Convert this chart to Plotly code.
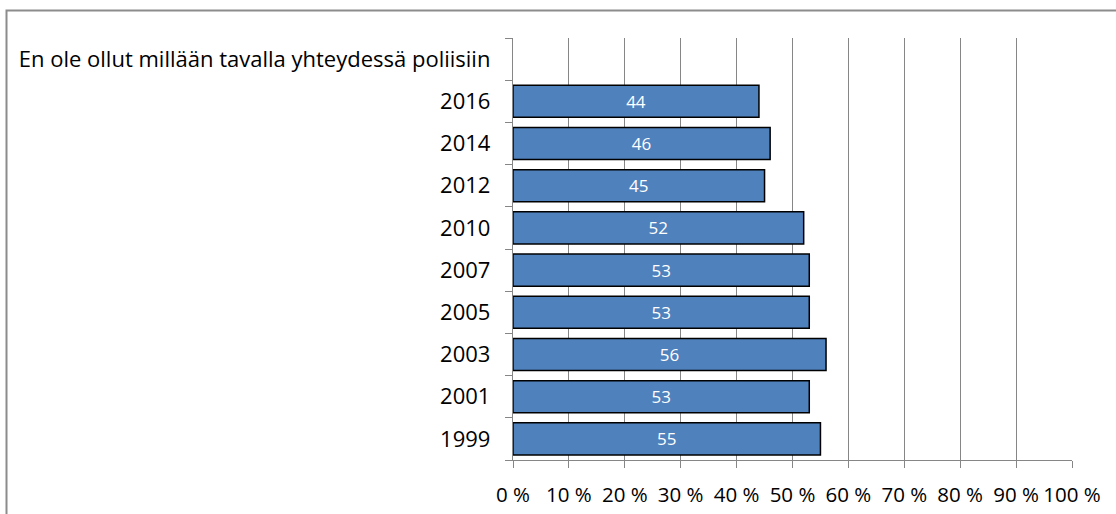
import plotly.graph_objects as go

header = "En ole ollut millään tavalla yhteydessä poliisiin"
years = ["1999", "2001", "2003", "2005", "2007", "2010", "2012", "2014", "2016"]
values = [55, 53, 56, 53, 53, 52, 45, 46, 44]
x_tickvals = [0, 10, 20, 30, 40, 50, 60, 70, 80, 90, 100]
x_ticktext = ["0 %", "10 %", "20 %", "30 %", "40 %", "50 %", "60 %", "70 %", "80 %", "90 %", "100 %"]

categories = years + [header]
bar_values = values + [None]
labels = [str(v) for v in values] + [""]

FONT = "Open Sans"
W, H = 1116, 514
L, R, T, B = 513, 44, 38, 54
pw, ph = W - L - R, H - T - B

fig = go.Figure()
fig.add_trace(go.Bar(
    x=bar_values,
    y=categories,
    orientation="h",
    marker=dict(color="#4F81BD", line=dict(color="#000000", width=1.5)),
    text=labels,
    textposition="inside",
    insidetextanchor="middle",
    textfont=dict(color="white", size=17, family=FONT),
    cliponaxis=False,
    hoverinfo="skip",
))

fig.update_layout(
    width=W, height=H,
    margin=dict(l=L, r=R, t=T, b=B),
    paper_bgcolor="white",
    plot_bgcolor="white",
    bargap=0.24,
    showlegend=False,
    font=dict(family=FONT, size=20, color="#000000"),
    shapes=[dict(
        type="rect", xref="paper", yref="paper",
        x0=(6.5 - L) / pw, x1=(W + 10 - L) / pw,
        y0=(H - B - (H + 10)) / ph, y1=(H - B - 10.5) / ph,
        line=dict(color="#8C8C8C", width=2),
        fillcolor="rgba(0,0,0,0)",
        layer="below",
    )],
)

fig.update_xaxes(
    range=[0, 100],
    tickvals=x_tickvals,
    ticktext=x_ticktext,
    showgrid=True,
    gridcolor="#868686",
    gridwidth=1.4,
    zeroline=False,
    showline=True,
    linecolor="#868686",
    linewidth=1.4,
    ticks="outside",
    ticklen=7,
    tickcolor="#868686",
    tickwidth=1.4,
    ticklabelstandoff=9,
    tickfont=dict(size=20.5, family=FONT),
    automargin=False,
)

fig.update_yaxes(
    type="category",
    categoryorder="array",
    categoryarray=categories,
    showgrid=False,
    showline=True,
    linecolor="#868686",
    linewidth=1.4,
    ticks="outside",
    tickson="boundaries",
    ticklen=7,
    tickcolor="#868686",
    tickwidth=1.4,
    ticklabelstandoff=17,
    tickfont=dict(size=22, family=FONT),
    automargin=False,
)

fig.write_html(
    "out.html",
    config={"displayModeBar": False},
    post_script="document.body.style.margin='0px';",
)
